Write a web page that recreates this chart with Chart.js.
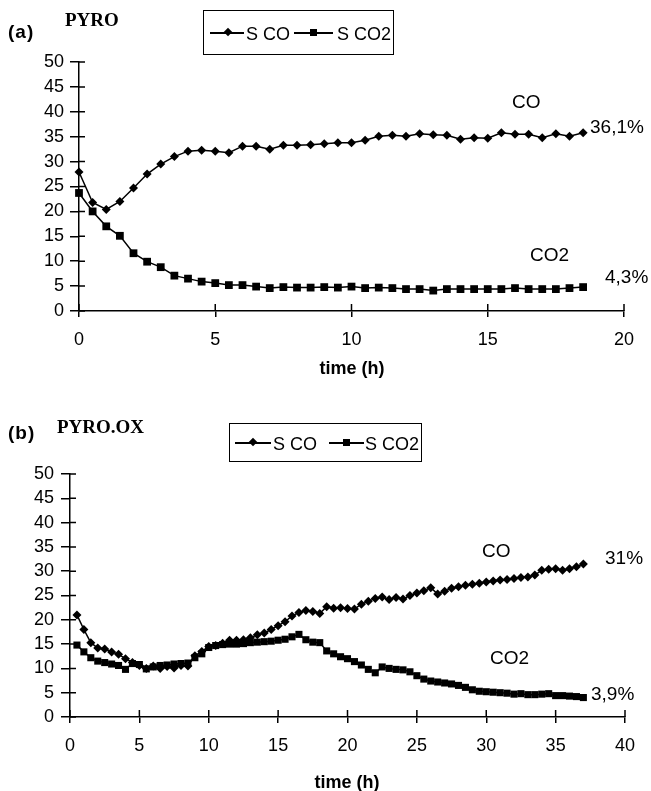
<!DOCTYPE html>
<html>
<head>
<meta charset="utf-8">
<script src="https://cdn.jsdelivr.net/npm/chart.js@4.4.1/dist/chart.umd.min.js"></script>
<style>
  body { margin: 0; background: #fff; width: 651px; height: 791px; position: relative; overflow: hidden;
         font-family: "Liberation Sans", Arial, sans-serif; color: #000; }
  canvas { position: absolute; left: 0; }
  .t { position: absolute; line-height: 1; white-space: nowrap; font-size: 19px; }
  .tag { font-weight: bold; font-size: 19px; letter-spacing: 1px; }
  .serif { font-family: "Liberation Serif", "Times New Roman", serif; font-weight: bold; font-size: 19px; }
  .axt { font-weight: bold; font-size: 18px; transform: translateX(-50%); }
  .legend { position: absolute; border: 1.5px solid #000; box-sizing: border-box; }
  .legend .ln { position: absolute; height: 1.5px; background: #000; }
  .legend .dia { position: absolute; width: 6px; height: 6px; background: #000; transform: rotate(45deg); }
  .legend .sq { position: absolute; width: 7px; height: 7px; background: #000; }
  .legend .lt { position: absolute; font-size: 18px; line-height: 1; }
</style>
</head>
<body>
<canvas id="chartA" width="651" height="395" style="top:0"></canvas>
<canvas id="chartB" width="651" height="391" style="top:400px"></canvas>

<!-- panel (a) texts -->
<div class="t tag" style="left:8px;top:22px">(a)</div>
<div class="t serif" style="left:65px;top:10px">PYRO</div>
<div class="legend" style="left:203px;top:10px;width:191px;height:45px">
  <div class="ln" style="left:6px;top:21px;width:34px"></div>
  <div class="dia" style="left:21px;top:18px"></div>
  <div class="lt" style="left:42px;top:14px">S CO</div>
  <div class="ln" style="left:90px;top:21px;width:39px"></div>
  <div class="sq" style="left:106px;top:18px"></div>
  <div class="lt" style="left:133px;top:14px">S CO2</div>
</div>
<div class="t" style="left:512px;top:92px">CO</div>
<div class="t" style="left:590px;top:117px">36,1%</div>
<div class="t" style="left:530px;top:245px">CO2</div>
<div class="t" style="left:605px;top:267px">4,3%</div>
<div class="t axt" style="left:352px;top:359px">time (h)</div>

<!-- panel (b) texts -->
<div class="t tag" style="left:8px;top:423px">(b)</div>
<div class="t serif" style="left:57px;top:417px">PYRO.OX</div>
<div class="legend" style="left:229px;top:423px;width:193px;height:39px">
  <div class="ln" style="left:5px;top:18px;width:36px"></div>
  <div class="dia" style="left:20px;top:15px"></div>
  <div class="lt" style="left:43px;top:11px">S CO</div>
  <div class="ln" style="left:99px;top:18px;width:35px"></div>
  <div class="sq" style="left:113px;top:15px"></div>
  <div class="lt" style="left:135px;top:11px">S CO2</div>
</div>
<div class="t" style="left:482px;top:541px">CO</div>
<div class="t" style="left:605px;top:548px">31%</div>
<div class="t" style="left:490px;top:648px">CO2</div>
<div class="t" style="left:591px;top:684px">3,9%</div>
<div class="t axt" style="left:347px;top:773px">time (h)</div>

<script>
// (a) PYRO
const timeA = [0, 0.5, 1, 1.5, 2, 2.5, 3, 3.5, 4, 4.5, 5, 5.5, 6, 6.5, 7, 7.5, 8, 8.5, 9, 9.5,
  10, 10.5, 11, 11.5, 12, 12.5, 13, 13.5, 14, 14.5, 15, 15.5, 16, 16.5, 17, 17.5, 18, 18.5];
const coA = [27.9, 21.8, 20.4, 22.0, 24.7, 27.5, 29.5, 31.0, 32.1, 32.3,
  32.1, 31.8, 33.1, 33.1, 32.5, 33.3, 33.3, 33.4, 33.6, 33.8,
  33.8, 34.3, 35.1, 35.3, 35.1, 35.6, 35.4, 35.3, 34.5, 34.8,
  34.7, 35.8, 35.5, 35.5, 34.8, 35.6, 35.1, 35.8];
const co2A = [23.7, 20.0, 17.0, 15.1, 11.6, 9.9, 8.8, 7.1, 6.5, 5.9,
  5.6, 5.2, 5.2, 4.9, 4.6, 4.8, 4.7, 4.7, 4.8, 4.7,
  4.9, 4.6, 4.7, 4.6, 4.4, 4.4, 4.1, 4.4, 4.4, 4.4,
  4.4, 4.4, 4.6, 4.4, 4.4, 4.4, 4.6, 4.8];

// (b) PYRO.OX
const timeB = [0.5, 1, 1.5, 2, 2.5, 3, 3.5, 4, 4.5, 5, 5.5, 6, 6.5, 7, 7.5, 8, 8.5, 9, 9.5, 10,
  10.5, 11, 11.5, 12, 12.5, 13, 13.5, 14, 14.5, 15, 15.5, 16, 16.5, 17, 17.5, 18, 18.5, 19, 19.5, 20,
  20.5, 21, 21.5, 22, 22.5, 23, 23.5, 24, 24.5, 25, 25.5, 26, 26.5, 27, 27.5, 28, 28.5, 29, 29.5, 30,
  30.5, 31, 31.5, 32, 32.5, 33, 33.5, 34, 34.5, 35, 35.5, 36, 36.5, 37];
const coB = [21.0, 18.0, 15.3, 14.2, 14.0, 13.4, 12.9, 12.0, 11.2, 10.6,
  10.0, 10.5, 10.0, 10.4, 10.1, 10.6, 10.5, 12.6, 13.5, 14.5,
  14.7, 15.2, 15.8, 15.8, 15.9, 16.3, 16.9, 17.3, 18.0, 18.8,
  19.6, 20.8, 21.5, 21.9, 21.7, 21.3, 22.7, 22.4, 22.5, 22.3,
  22.2, 23.2, 23.8, 24.4, 24.7, 24.2, 24.6, 24.3, 25.0, 25.5,
  26.0, 26.6, 25.3, 25.9, 26.5, 26.8, 27.1, 27.3, 27.5, 27.8,
  28.0, 28.2, 28.3, 28.5, 28.7, 28.8, 29.2, 30.2, 30.4, 30.5,
  30.2, 30.5, 30.9, 31.5];
const co2B = [14.8, 13.4, 12.2, 11.5, 11.2, 10.9, 10.6, 9.8, 11.0, 10.8,
  9.9, 10.3, 10.6, 10.7, 10.9, 11.0, 11.1, 12.2, 13.0, 14.3,
  14.7, 14.9, 15.0, 15.0, 15.1, 15.3, 15.4, 15.5, 15.6, 15.8,
  16.0, 16.5, 17.0, 15.9, 15.4, 15.3, 13.6, 13.0, 12.4, 12.0,
  11.4, 10.7, 9.8, 9.1, 10.3, 10.0, 9.8, 9.7, 9.3, 8.5,
  7.8, 7.4, 7.2, 7.0, 6.8, 6.5, 6.1, 5.6, 5.3, 5.2,
  5.1, 5.0, 4.9, 4.7, 4.8, 4.6, 4.6, 4.7, 4.8, 4.4,
  4.4, 4.3, 4.2, 4.0];

const yTicks = [0, 5, 10, 15, 20, 25, 30, 35, 40, 45, 50];

Chart.defaults.font.family = '"Liberation Sans", Arial, sans-serif';
Chart.defaults.color = '#000';

// tick marks that also cross into the plot, like the original axes
const innerTicks = {
  id: 'innerTicks',
  afterDraw(chart, args, opts) {
    const { ctx, scales: { x, y } } = chart;
    ctx.save();
    ctx.strokeStyle = '#000';
    ctx.lineWidth = 1.5;
    ctx.beginPath();
    x.ticks.forEach((t, i) => {
      const px = x.getPixelForTick(i);
      ctx.moveTo(px, y.bottom);
      ctx.lineTo(px, y.bottom - opts.x);
    });
    y.ticks.forEach((t, i) => {
      const py = y.getPixelForTick(i);
      ctx.moveTo(x.left, py);
      ctx.lineTo(x.left + opts.y, py);
    });
    ctx.stroke();
    ctx.restore();
  }
};

function series(times, vals) {
  return times.map((t, i) => ({ x: t, y: vals[i] }));
}

function makeChart(id, times, co, co2, cfg) {
  new Chart(document.getElementById(id), {
    type: 'line',
    data: {
      datasets: [
        { label: 'S CO', data: series(times, co), borderColor: '#000', backgroundColor: '#000',
          borderWidth: 1.5, pointStyle: 'rectRot', pointRadius: cfg.dia, pointBorderWidth: 0,
          tension: 0, clip: false },
        { label: 'S CO2', data: series(times, co2), borderColor: '#000', backgroundColor: '#000',
          borderWidth: 1.5, pointStyle: 'rect', pointRadius: cfg.sq, pointBorderWidth: 0,
          tension: 0, clip: false }
      ]
    },
    options: {
      responsive: false,
      animation: false,
      layout: { padding: { top: cfg.top, right: cfg.right, left: 0, bottom: 0 } },
      plugins: { legend: { display: false }, tooltip: { enabled: false },
                 innerTicks: { x: 7, y: 6 } },
      scales: {
        x: {
          type: 'linear', min: 0, max: cfg.xmax,
          ticks: { stepSize: 5, font: { size: 18 }, padding: 12, maxRotation: 0, autoSkip: false },
          grid: { drawOnChartArea: false, tickLength: 6, color: '#000', lineWidth: 1.5 },
          border: { color: '#000', width: 1.5 },
          afterFit(s) { s.height = cfg.xh; }
        },
        y: {
          min: 0, max: 50,
          afterBuildTicks(s) { s.ticks = yTicks.map(v => ({ value: v })); },
          ticks: { font: { size: 18 }, padding: cfg.ypad, autoSkip: false },
          grid: { drawOnChartArea: false, tickLength: 9, color: '#000', lineWidth: 1.5 },
          border: { color: '#000', width: 1.5 },
          afterFit(s) { s.width = cfg.yw; }
        }
      }
    },
    plugins: [innerTicks]
  });
}

makeChart('chartA', timeA, coA, co2A, { xmax: 20, top: 62, right: 27, xh: 84, yw: 79, ypad: 6, dia: 4.5, sq: 5.5 });
makeChart('chartB', timeB, coB, co2B, { xmax: 40, top: 74, right: 26, xh: 74, yw: 70, ypad: 7, dia: 4.5, sq: 5 });
</script>
</body>
</html>
